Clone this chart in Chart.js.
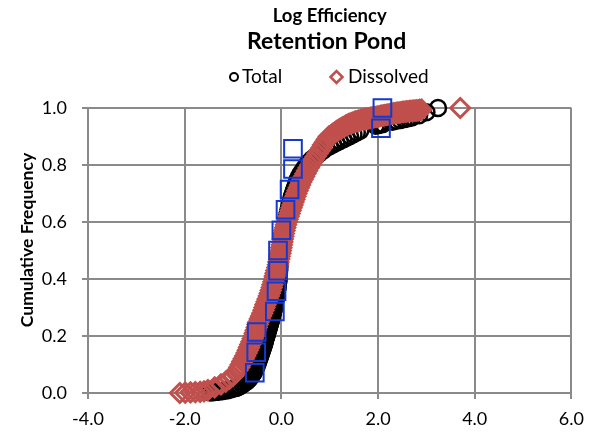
<!DOCTYPE html>
<html>
<head>
<meta charset="utf-8">
<script src="https://cdn.jsdelivr.net/npm/chart.js@4.4.0/dist/chart.umd.min.js"></script>
<style>
  html, body { margin: 0; padding: 0; background: #fff; }
</style>
</head>
<body>
<canvas id="chart" width="593" height="433"></canvas>
<script>
const TITLE_TOP = "Log Efficiency";
const TITLE_MAIN = "Retention Pond";
const Y_TITLE = "Cumulative Frequency";
const SERIES_NAMES = ["Total", "Dissolved"];
const X_TICKS = [-4, -2, 0, 2, 4, 6];
const Y_TICKS = [0, 0.2, 0.4, 0.6, 0.8, 1.0];

// Total (black circles)
const totalX = [
  -1.47, -1.41, -1.35, -1.29, -1.23, -1.17, -1.11, -1.05, -0.99, -0.94,
  -0.9, -0.85, -0.8, -0.76, -0.72, -0.69, -0.66, -0.64, -0.62, -0.6,
  -0.58, -0.565, -0.55, -0.537, -0.525, -0.512, -0.5, -0.49, -0.48, -0.47,
  -0.46, -0.45, -0.44, -0.43, -0.42, -0.41, -0.4, -0.39, -0.38, -0.37,
  -0.36, -0.352, -0.345, -0.337, -0.33, -0.32, -0.31, -0.302, -0.295, -0.285,
  -0.275, -0.267, -0.26, -0.25, -0.24, -0.232, -0.225, -0.217, -0.21, -0.202,
  -0.195, -0.187, -0.18, -0.172, -0.165, -0.157, -0.15, -0.145, -0.14, -0.135,
  -0.13, -0.125, -0.12, -0.115, -0.11, -0.105, -0.1, -0.095, -0.09, -0.085,
  -0.08, -0.077, -0.075, -0.07, -0.065, -0.062, -0.06,
  -0.055, -0.05, -0.045, -0.04, -0.04, -0.035, -0.03, -0.03, -0.025, -0.02,
  -0.01, 0.0, 0.01, 0.02, 0.03, 0.04, 0.05, 0.065, 0.075, 0.09,
  0.105, 0.12, 0.13, 0.145, 0.16, 0.175, 0.19, 0.205, 0.22, 0.24,
  0.26, 0.28, 0.3, 0.32, 0.34, 0.37, 0.4, 0.44, 0.48, 0.52,
  0.57, 0.63, 0.7, 0.78, 0.86,
  0.93, 1.0, 1.07, 1.14, 1.21, 1.28, 1.35, 1.42, 1.49, 1.56, 1.63,
  1.95, 2.0, 2.05, 2.1, 2.3, 2.38, 2.46, 2.54, 2.62, 2.7, 2.85, 3.0, 3.24
];
const totalY = [
  0.002, 0.003, 0.004, 0.005, 0.006, 0.008, 0.01, 0.012, 0.015, 0.018,
  0.02, 0.025, 0.03, 0.035, 0.04, 0.045, 0.05, 0.055, 0.06, 0.065,
  0.07, 0.075, 0.08, 0.085, 0.09, 0.095, 0.10, 0.105, 0.11, 0.115,
  0.12, 0.125, 0.13, 0.135, 0.14, 0.145, 0.15, 0.155, 0.16, 0.165,
  0.17, 0.175, 0.18, 0.185, 0.19, 0.195, 0.20, 0.205, 0.21, 0.215,
  0.22, 0.225, 0.23, 0.235, 0.24, 0.245, 0.25, 0.255, 0.26, 0.265,
  0.27, 0.275, 0.28, 0.285, 0.29, 0.295, 0.30, 0.305, 0.31, 0.315,
  0.32, 0.325, 0.33, 0.335, 0.34, 0.345, 0.35, 0.355, 0.36, 0.365,
  0.37, 0.375, 0.38, 0.385, 0.39, 0.395, 0.40,
  0.41, 0.42, 0.43, 0.44, 0.45, 0.46, 0.47, 0.48, 0.49, 0.50,
  0.51, 0.52, 0.53, 0.54, 0.55, 0.56, 0.57, 0.58, 0.59, 0.60,
  0.61, 0.62, 0.63, 0.64, 0.65, 0.66, 0.67, 0.68, 0.69, 0.70,
  0.71, 0.72, 0.73, 0.74, 0.75, 0.76, 0.77, 0.78, 0.79, 0.80,
  0.81, 0.82, 0.83, 0.84, 0.85,
  0.86, 0.866, 0.872, 0.878, 0.884, 0.89, 0.896, 0.902, 0.908, 0.914, 0.92,
  0.938, 0.94, 0.942, 0.944, 0.952, 0.955, 0.958, 0.961, 0.964, 0.967, 0.975, 0.985, 1.0
];

// Dissolved (red diamonds)
const dissolvedX = [
  -2.1, -1.99, -1.88, -1.78, -1.68, -1.6,
  -1.52, -1.38, -1.25, -1.15, -1.07, -1.0, -0.95, -0.91, -0.87, -0.84,
  -0.81, -0.78, -0.75, -0.72, -0.695, -0.67, -0.645, -0.62, -0.595, -0.57,
  -0.55, -0.53, -0.51, -0.49, -0.47, -0.445, -0.42, -0.395, -0.37, -0.35,
  -0.33, -0.305, -0.285, -0.26, -0.24, -0.22, -0.2, -0.185, -0.165, -0.15,
  -0.135, -0.12, -0.105, -0.085, -0.07, -0.06, -0.045, -0.035, -0.02, -0.01,
  0.0, 0.01, 0.02, 0.03, 0.04, 0.05, 0.065, 0.08, 0.095, 0.11,
  0.13, 0.15, 0.17, 0.19, 0.21, 0.23, 0.25, 0.27, 0.29, 0.31,
  0.335, 0.36, 0.385, 0.41, 0.44, 0.47, 0.5, 0.53, 0.565, 0.6,
  0.635, 0.67, 0.71, 0.75, 0.79, 0.83, 0.86, 0.9, 0.94, 0.98,
  1.03, 1.06, 1.09, 1.12, 1.15, 1.18, 1.21, 1.24, 1.27, 1.3,
  1.33, 1.36, 1.39, 1.42, 1.45, 1.48, 1.51, 1.54, 1.57, 1.6,
  1.63, 1.66, 1.69, 1.72, 1.75, 1.78, 1.81, 1.84, 1.87, 1.9,
  1.93, 1.96, 1.99, 2.02, 2.05, 2.08, 2.11, 2.14, 2.17, 2.2,
  2.23, 2.26, 2.29, 2.32, 2.35, 2.38, 2.41, 2.44, 2.47, 2.5,
  2.53, 2.56, 2.59, 2.62, 2.65, 2.68, 2.71, 2.74, 2.77, 2.8,
  2.83, 2.86, 2.9, 3.7
];
const dissolvedY = [
  0.0, 0.001, 0.002, 0.003, 0.004, 0.006,
  0.01, 0.02, 0.03, 0.04, 0.05, 0.06, 0.07, 0.08, 0.09, 0.10,
  0.11, 0.12, 0.13, 0.14, 0.15, 0.16, 0.17, 0.18, 0.19, 0.20,
  0.21, 0.22, 0.23, 0.24, 0.25, 0.26, 0.27, 0.28, 0.29, 0.30,
  0.31, 0.32, 0.33, 0.34, 0.35, 0.36, 0.37, 0.38, 0.39, 0.40,
  0.41, 0.42, 0.43, 0.44, 0.45, 0.46, 0.47, 0.48, 0.49, 0.50,
  0.51, 0.52, 0.53, 0.54, 0.55, 0.56, 0.57, 0.58, 0.59, 0.60,
  0.61, 0.62, 0.63, 0.64, 0.65, 0.66, 0.67, 0.68, 0.69, 0.70,
  0.71, 0.72, 0.73, 0.74, 0.75, 0.76, 0.77, 0.78, 0.79, 0.80,
  0.81, 0.82, 0.83, 0.84, 0.85, 0.86, 0.87, 0.88, 0.89, 0.90,
  0.905, 0.909, 0.912, 0.916, 0.92, 0.923, 0.926, 0.929, 0.932, 0.935,
  0.938, 0.941, 0.943, 0.945, 0.947, 0.949, 0.951, 0.953, 0.954, 0.956,
  0.957, 0.959, 0.96, 0.961, 0.962, 0.963, 0.964, 0.965, 0.966, 0.967,
  0.968, 0.969, 0.97, 0.971, 0.972, 0.973, 0.974, 0.975, 0.976, 0.977,
  0.978, 0.979, 0.98, 0.981, 0.982, 0.983, 0.984, 0.984, 0.985, 0.986,
  0.986, 0.987, 0.988, 0.988, 0.989, 0.99, 0.99, 0.991, 0.991, 0.992,
  0.992, 0.993, 0.994, 1.0
];

// third series (blue squares, not in legend)
const bmpX = [-0.55, -0.52, -0.51, -0.135, -0.1, -0.07, -0.07, 0.0, 0.086, 0.17, 0.24, 0.24, 2.06, 2.09];
const bmpY = [0.071, 0.143, 0.214, 0.286, 0.357, 0.429, 0.5, 0.571, 0.643, 0.714, 0.786, 0.857, 0.929, 1.0];

const toPoints = (xs, ys) => xs.map((x, i) => ({ x: x, y: ys[i] }));

const BLACK = "#000000";
const RED = "#C0504D";
const BLUE = "#1438D0";
const GRID = "#8a8a8a";
const FONT = "Lato";

// titles, legend and y title, placed like the Excel original
const headerText = {
    id: "headerText",
    afterDraw(chart) {
        const { ctx, chartArea } = chart;
        const cx = (chartArea.left + chartArea.right) / 2;
        ctx.save();
        ctx.fillStyle = "#000";
        ctx.textAlign = "center";
        ctx.textBaseline = "middle";
        ctx.font = `bold 18.5px ${FONT}`;
        ctx.fillText(TITLE_TOP, cx, 16);
        ctx.font = `bold 23px ${FONT}`;
        ctx.fillText(TITLE_MAIN, cx - 3, 42);

        // y axis title
        ctx.save();
        ctx.translate(27, 240);
        ctx.rotate(-Math.PI / 2);
        ctx.font = `bold 17.5px ${FONT}`;
        ctx.fillText(Y_TITLE, 0, 0);
        ctx.restore();

        // legend
        const ly = 77;
        ctx.font = `19px ${FONT}`;
        ctx.textAlign = "left";

        ctx.beginPath();
        ctx.arc(234, ly, 4, 0, 2 * Math.PI);
        ctx.strokeStyle = BLACK;
        ctx.lineWidth = 2;
        ctx.stroke();
        ctx.fillText(SERIES_NAMES[0], 242, ly);

        ctx.beginPath();
        ctx.moveTo(330.5, ly);
        ctx.lineTo(336.5, ly - 6);
        ctx.lineTo(342.5, ly);
        ctx.lineTo(336.5, ly + 6);
        ctx.closePath();
        ctx.strokeStyle = RED;
        ctx.lineWidth = 2.5;
        ctx.stroke();
        ctx.fillText(SERIES_NAMES[1], 348, ly);
        ctx.restore();
    },
};

new Chart(document.getElementById("chart"), {
    type: "scatter",
    data: {
        datasets: [
            {
                label: SERIES_NAMES[0],
                data: toPoints(totalX, totalY),
                pointStyle: "circle",
                pointRadius: 8,
                borderWidth: 2.5,
                borderColor: BLACK,
                backgroundColor: "rgba(0,0,0,0)",
                clip: false,
                order: 3,
            },
            {
                label: SERIES_NAMES[1],
                data: toPoints(dissolvedX, dissolvedY),
                pointStyle: "rectRot",
                pointRadius: 9.5,
                borderWidth: 3,
                borderColor: RED,
                backgroundColor: "rgba(0,0,0,0)",
                clip: false,
                order: 2,
            },
            {
                label: "BMP",
                data: toPoints(bmpX, bmpY),
                pointStyle: "rect",
                pointRadius: 12.5,
                borderWidth: 2,
                borderColor: BLUE,
                backgroundColor: "rgba(0,0,0,0)",
                clip: false,
                order: 1,
            },
        ],
    },
    options: {
        responsive: false,
        animation: false,
        layout: { padding: { top: 108, right: 15, left: 0, bottom: 0 } },
        plugins: {
            legend: { display: false },
            title: { display: false },
            tooltip: { enabled: false },
        },
        scales: {
            x: {
                type: "linear",
                min: X_TICKS[0],
                max: X_TICKS[X_TICKS.length - 1],
                afterBuildTicks: (scale) => {
                    scale.ticks = X_TICKS.map((v) => ({ value: v }));
                },
                afterFit: (scale) => {
                    scale.height = 40;
                },
                ticks: {
                    color: "#000",
                    font: { family: FONT, size: 18 },
                    padding: 9,
                    callback: (v) => Number(v).toFixed(1),
                    maxRotation: 0,
                },
                grid: { color: GRID, lineWidth: 2, tickLength: 6, tickColor: GRID },
                border: { color: GRID, width: 2 },
            },
            y: {
                type: "linear",
                min: Y_TICKS[0],
                max: Y_TICKS[Y_TICKS.length - 1],
                afterBuildTicks: (scale) => {
                    scale.ticks = Y_TICKS.map((v) => ({ value: v }));
                },
                afterFit: (scale) => {
                    scale.width = 88;
                },
                ticks: {
                    color: "#000",
                    font: { family: FONT, size: 18 },
                    padding: 15,
                    callback: (v) => Number(v).toFixed(1),
                },
                grid: { color: GRID, lineWidth: 2, tickLength: 6, tickColor: GRID },
                border: { color: GRID, width: 2 },
            },
        },
    },
    plugins: [headerText],
});
</script>
</body>
</html>
